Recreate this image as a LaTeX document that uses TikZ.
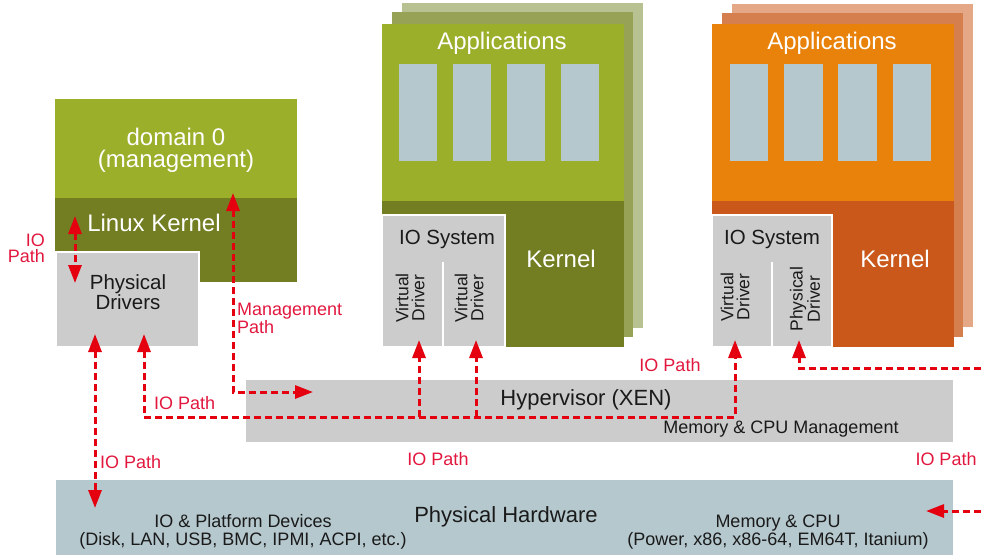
\documentclass[tikz,border=0pt]{standalone}
\usepackage{fontspec}
\setmainfont{Liberation Sans}
\usetikzlibrary{arrows.meta,fit}
\definecolor{lgreen}{HTML}{9CAF2A}
\definecolor{dgreen}{HTML}{727E21}
\definecolor{mgreen}{HTML}{97A257}
\definecolor{fgreen}{HTML}{B8C191}
\definecolor{lorange}{HTML}{E8820A}
\definecolor{dorange}{HTML}{C9581A}
\definecolor{morange}{HTML}{D57F4E}
\definecolor{forange}{HTML}{E4A887}
\definecolor{greybox}{HTML}{CCCCCC}
\definecolor{hwblue}{HTML}{B5C8CE}
\definecolor{apprect}{HTML}{B5C8CD}
\definecolor{arrred}{HTML}{E4000F}
\definecolor{lblred}{HTML}{E2173E}
\definecolor{txtdark}{HTML}{1A1A1A}
\begin{document}
\begin{tikzpicture}[x=1pt,y=-1pt,
  blk/.style={draw=none,inner sep=0pt,outer sep=0pt,rectangle},
  gbox/.style={blk,fill=greybox,draw=white,line width=1.5pt},
  wtxt/.style={text=white,inner sep=0pt,align=center},
  dtxt/.style={text=txtdark,inner sep=0pt,align=center},
  big/.style={font=\fontsize{24}{22}\selectfont},
  mid/.style={font=\fontsize{20.5}{19}\selectfont},
  sml/.style={font=\fontsize{18}{18}\selectfont},
  vdr/.style={dtxt,rotate=90,font=\fontsize{17.5}{16}\selectfont},
  lbl/.style={text=lblred,inner sep=0pt,font=\fontsize{18}{16}\selectfont},
  iopath/.style={draw=arrred,line width=3pt,dash pattern=on 7pt off 4pt},
  tip/.style={-{Triangle[length=18pt,width=13pt]}},
  dtip/.style={{Triangle[length=18pt,width=13pt]}-{Triangle[length=18pt,width=13pt]}}
]
\useasboundingbox (0,0) rectangle (981,555);

% ---------- domain 0 ----------
\node[blk,fill=lgreen,fit={(55,99) (297,198)}] (d0top) {};
\node[blk,fill=dgreen,fit={(55,198) (297,282)}] (d0ker) {};
\node[gbox,fit={(56,252) (199,347)}] (pdrv) {};
\node[wtxt,big] (d0txt) at (176,150) {domain 0\\(management)};
\node[wtxt,big] (lktxt) at (154,223) {Linux Kernel};
\node[dtxt,mid] (pdtxt) at (128,292) {Physical\\Drivers};

% ---------- VM 1 (green) ----------
\node[blk,fill=fgreen,fit={(402,3) (643,328)}] (g3) {};
\node[blk,fill=mgreen,fit={(392,12) (633,337)}] (g2) {};
\node[blk,fill=lgreen,fit={(382,24) (624,201)}] (g1top) {};
\node[blk,fill=dgreen,fit={(382,201) (624,347)}] (g1ker) {};
\node[blk,fill=apprect,fit={(399,64) (437,161)}] (ga1) {};
\node[blk,fill=apprect,fit={(453,64) (491,161)}] (ga2) {};
\node[blk,fill=apprect,fit={(507,64) (545,161)}] (ga3) {};
\node[blk,fill=apprect,fit={(561,64) (599,161)}] (ga4) {};
\node[gbox,fit={(382,215) (505,347)}] (gio) {};
\node[blk,fill=white,fit={(441.5,262) (443.5,347)}] (gdiv) {};
\node[wtxt,big] (gapp) at (502,43) {Applications};
\node[dtxt,mid] (giot) at (447,239) {IO System};
\node[wtxt,big] (gkt) at (561,259) {Kernel};
\node[vdr] (gv1) at (410,298) {Virtual\\Driver};
\node[vdr] (gv2) at (469,298) {Virtual\\Driver};

% ---------- VM 2 (orange) ----------
\node[blk,fill=forange,fit={(732,4) (973,327)}] (o3) {};
\node[blk,fill=morange,fit={(722,13) (963,337)}] (o2) {};
\node[blk,fill=lorange,fit={(712,24) (954,201)}] (o1top) {};
\node[blk,fill=dorange,fit={(712,201) (954,347)}] (o1ker) {};
\node[blk,fill=apprect,fit={(730,64) (768,161)}] (oa1) {};
\node[blk,fill=apprect,fit={(784,64) (823,161)}] (oa2) {};
\node[blk,fill=apprect,fit={(838,64) (877,161)}] (oa3) {};
\node[blk,fill=apprect,fit={(893,64) (931,161)}] (oa4) {};
\node[gbox,fit={(712,215) (832,347)}] (oio) {};
\node[blk,fill=white,fit={(771,262) (773,347)}] (odiv) {};
\node[wtxt,big] (oapp) at (832,43) {Applications};
\node[dtxt,mid] (oiot) at (772,239) {IO System};
\node[wtxt,big] (okt) at (895,259) {Kernel};
\node[vdr] (ov1) at (735,297) {Virtual\\Driver};
\node[vdr] (ov2) at (805,299) {Physical\\Driver};

% ---------- Hypervisor & hardware ----------
\node[blk,fill=greybox,fit={(246,380) (953,442)}] (hyp) {};
\node[dtxt,font=\fontsize{22}{22}\selectfont] (hypt) at (586,400) {Hypervisor (XEN)};
\node[dtxt,sml] (memm) at (781,429) {Memory \& CPU Management};
\node[blk,fill=hwblue,fit={(56,480) (953,555)}] (hw) {};
\node[dtxt,font=\fontsize{22}{22}\selectfont] (hwt) at (506,517) {Physical Hardware};
\node[dtxt,sml] (iodev) at (243,532) {IO \& Platform Devices\\(Disk, LAN, USB, BMC, IPMI, ACPI, etc.)};
\node[dtxt,sml] (memcpu) at (778,532) {Memory \& CPU\\(Power, x86, x86-64, EM64T, Itanium)};

% ---------- connector end points ----------
\coordinate (lkio) at (75,216);
\coordinate (pdio) at (75,283);
\coordinate (mgtop) at (233,193);
\coordinate (mgcorner) at (233,392);
\coordinate (mgend) at (313,392);
\coordinate (pdl) at (95,334);
\coordinate (hwl) at (95,508);
\coordinate (pdr) at (144,334);
\coordinate (c1) at (144,417);
\coordinate (c2) at (735,417);
\coordinate (gv1b) at (419,340);
\coordinate (gv1c) at (419,417);
\coordinate (gv2b) at (476,340);
\coordinate (gv2c) at (476,417);
\coordinate (ov1b) at (735,340);
\coordinate (redge1) at (981,368);
\coordinate (c3) at (799,368);
\coordinate (ov2b) at (799,340);
\coordinate (redge2) at (981,511);
\coordinate (hwr) at (926,511);

% ---------- connectors ----------
\draw[iopath,dtip] (lkio) -- (pdio);
\draw[iopath,dtip] (mgtop) -- (mgcorner) -- (mgend);
\draw[iopath,dtip] (pdl) -- (hwl);
\draw[iopath,dtip] (pdr) -- (c1) -- (c2) -- (ov1b);
\draw[iopath,tip] (gv1c) -- (gv1b);
\draw[iopath,tip] (gv2c) -- (gv2b);
\draw[iopath,tip] (redge1) -- (c3) -- (ov2b);
\draw[iopath,tip] (redge2) -- (hwr);

% ---------- labels ----------
\node[lbl,align=right,anchor=east] (l1) at (45,248) {IO\\Path};
\node[lbl,align=left,anchor=west] (l2) at (237,318) {Management\\Path};
\node[lbl,anchor=west] (l3) at (154,403) {IO Path};
\node[lbl,anchor=west] (l4) at (100,462) {IO Path};
\node[lbl] (l5) at (438,459) {IO Path};
\node[lbl] (l6) at (670,365) {IO Path};
\node[lbl] (l7) at (946,459) {IO Path};
\end{tikzpicture}
\end{document}
